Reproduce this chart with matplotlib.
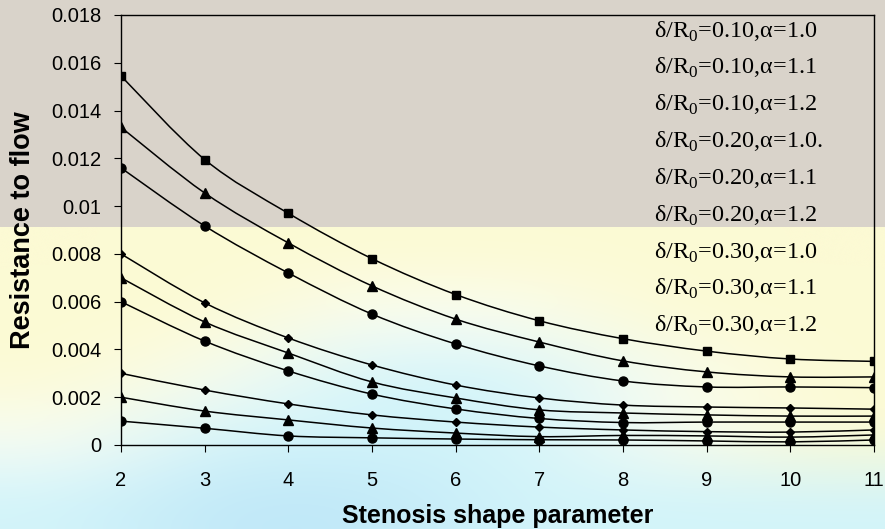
import numpy as np
import matplotlib
matplotlib.use('Agg')
import matplotlib.pyplot as plt
from matplotlib.path import Path
from matplotlib.patches import PathPatch

plt.rcParams['font.family'] = ['Liberation Sans', 'DejaVu Sans']
plt.rcParams['mathtext.fontset'] = 'custom'
plt.rcParams['mathtext.rm'] = 'Liberation Serif'

# stenosis shape parameter
shape = [2, 3, 4, 5, 6, 7, 8, 9, 10, 11]

# resistance to flow, one list per curve
d30_a10 = [0.01545, 0.01195, 0.0097, 0.0078, 0.0063, 0.0052, 0.00445, 0.00393, 0.0036, 0.0035]
d30_a11 = [0.0133, 0.01055, 0.00846, 0.00666, 0.00527, 0.00431, 0.00352, 0.00306, 0.00285, 0.00285]
d30_a12 = [0.0116, 0.00917, 0.0072, 0.00548, 0.00423, 0.00331, 0.00268, 0.00243, 0.00243, 0.0024]
d20_a10 = [0.0080, 0.00595, 0.00448, 0.00335, 0.00251, 0.00197, 0.00167, 0.00159, 0.00155, 0.0015]
d20_a11 = [0.0070, 0.00515, 0.00385, 0.00264, 0.00197, 0.00147, 0.00134, 0.00126, 0.00121, 0.00121]
d20_a12 = [0.0060, 0.00435, 0.0031, 0.00213, 0.00151, 0.00111, 0.00094, 0.00096, 0.00096, 0.00096]
d10_a10 = [0.0030, 0.0023, 0.00172, 0.00126, 0.00096, 0.00075, 0.00063, 0.00056, 0.00054, 0.00063]
d10_a11 = [0.0020, 0.00142, 0.00105, 0.00071, 0.0005, 0.00035, 0.0004, 0.00038, 0.00033, 0.00042]
d10_a12 = [0.0010, 0.0007, 0.00038, 0.0003, 0.00025, 0.00022, 0.00021, 0.00017, 0.00013, 0.00021]

legend_labels = [
    r'δ/R$_0$=0.10,α=1.0', r'δ/R$_0$=0.10,α=1.1', r'δ/R$_0$=0.10,α=1.2',
    r'δ/R$_0$=0.20,α=1.0.', r'δ/R$_0$=0.20,α=1.1', r'δ/R$_0$=0.20,α=1.2',
    r'δ/R$_0$=0.30,α=1.0', r'δ/R$_0$=0.30,α=1.1', r'δ/R$_0$=0.30,α=1.2',
]
yticks = [0, 0.002, 0.004, 0.006, 0.008, 0.01, 0.012, 0.014, 0.016, 0.018]
ytick_labels = ['0', '0.002', '0.004', '0.006', '0.008', '0.01', '0.012', '0.014', '0.016', '0.018']

series = [
    (d10_a12, 'o', 6.5), (d10_a11, '^', 6.5), (d10_a10, 'D', 4.5),
    (d20_a12, 'o', 6.5), (d20_a11, '^', 6.5), (d20_a10, 'D', 4.5),
    (d30_a12, 'o', 6.5), (d30_a11, '^', 6.5), (d30_a10, 's', 6),
]


def smooth_path(x, y):
    # excel-like smoothed line: cubic bezier through the points
    p = np.column_stack([x, y]).astype(float)
    ext = np.vstack([p[0], p, p[-1]])
    verts = [p[0]]
    codes = [Path.MOVETO]
    for i in range(len(p) - 1):
        c1 = ext[i + 1] + (ext[i + 2] - ext[i]) / 6
        c2 = ext[i + 2] - (ext[i + 3] - ext[i + 1]) / 6
        verts += [c1, c2, p[i + 1]]
        codes += [Path.CURVE4] * 3
    return Path(verts, codes)


fig = plt.figure(figsize=(8.85, 5.29), dpi=100)

# background picture
bg = fig.add_axes([0, 0, 1, 1], zorder=-10)
bg.set_xlim(0, 885)
bg.set_ylim(529, 0)
bg.axis('off')
Y = (252, 250, 212)
W = (250, 253, 244)
C = (210, 244, 250)
B = (192, 232, 248)
grid = np.array([
    [Y, Y, Y, Y, Y, Y],
    [Y, Y, W, W, Y, Y],
    [Y, W, C, C, W, Y],
    [W, C, C, C, W, Y],
    [C, B, B, C, C, C],
], dtype=float) / 255
bg.imshow(grid, extent=(0, 885, 529, 227), aspect='auto', interpolation='bicubic')
bg.add_patch(plt.Rectangle((0, 0), 885, 227, color='#d9d3ca', lw=0))

ax = fig.add_axes([121 / 885, 1 - 445 / 529, 753 / 885, 430 / 529])
ax.set_facecolor('none')

for (vals, mk, ms), lab in zip(series, legend_labels):
    ax.add_patch(PathPatch(smooth_path(shape, vals), fc='none', ec='black', lw=1.1))
    ax.plot(shape, vals, ls='none', marker=mk, ms=ms, color='black', label=lab)

ax.set_xlim(2, 11)
ax.set_ylim(0, 0.018)
ax.set_xticks(shape)
ax.set_yticks(yticks)
ax.set_yticklabels(ytick_labels)
ax.tick_params(axis='both', labelsize=14.5, direction='out', length=5, color='black')
ax.tick_params(axis='y', pad=9)
ax.tick_params(axis='x', pad=14)
for s in ax.spines.values():
    s.set_color('black')
    s.set_linewidth(1)

ax.set_xlabel('Stenosis shape parameter', fontsize=18, fontweight='bold', labelpad=10)
ax.set_ylabel('Resistance to flow', fontsize=19.5, fontweight='bold', labelpad=11)

leg = ax.legend(loc='upper right', bbox_to_anchor=(0.932, 0.99), frameon=False,
                handlelength=0, handletextpad=0, markerscale=0,
                borderpad=0, borderaxespad=0,
                labelspacing=0.52, prop={'family': 'Liberation Serif', 'size': 17.5})
for h in leg.legend_handles:
    h.set_visible(False)

fig.savefig('out.png', dpi=100)
